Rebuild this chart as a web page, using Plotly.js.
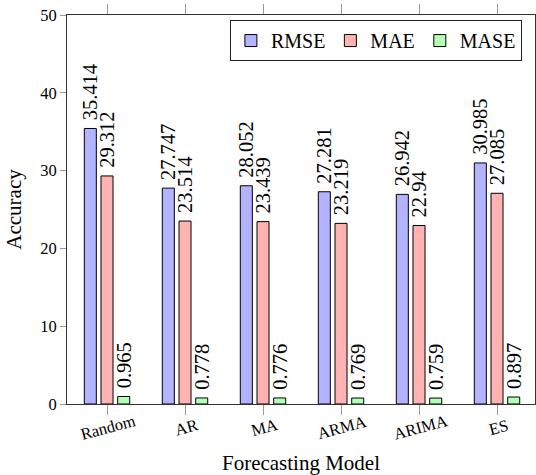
<!DOCTYPE html>
<html>
<head>
<meta charset="utf-8">
<script src="https://cdn.plot.ly/plotly-3.0.1.min.js"></script>
<style>
  html, body { margin: 0; padding: 0; background: #fff; }
  #chart { width: 536px; height: 475px; }
</style>
</head>
<body>
<div id="chart"></div>
<script>
const categories = ['Random', 'AR', 'MA', 'ARMA', 'ARIMA', 'ES'];
const seriesNames = ['RMSE', 'MAE', 'MASE'];
const rmse = [35.414, 27.747, 28.052, 27.281, 26.942, 30.985];
const mae = [29.312, 23.514, 23.439, 23.219, 22.94, 27.085];
const mase = [0.965, 0.778, 0.776, 0.769, 0.759, 0.897];
const yTicks = [0, 10, 20, 30, 40, 50];

const FONT = 'Liberation Serif';
const colors = ['#b3b3ff', '#ffb3b3', '#b3ffb3'];
const values = [rmse, mae, mase];

const traces = values.map((vals, k) => ({
  type: 'bar',
  name: seriesNames[k],
  x: categories,
  y: vals,
  text: vals.map(v => String(v)),
  texttemplate: '\u00a0%{text}',
  textposition: 'outside',
  textangle: -90,
  constraintext: 'none',
  cliponaxis: false,
  textfont: { family: FONT, size: 20.5, color: '#000' },
  marker: { color: colors[k], line: { color: '#000', width: 1 } },
  hoverinfo: 'x+y+name'
}));

const annotations = categories.map((c, i) => ({
  x: i, y: -0.06, xref: 'x', yref: 'paper',
  text: c, showarrow: false, textangle: -15,
  xanchor: 'center', yanchor: 'middle', xshift: 1,
  font: { family: FONT, size: 16.5, color: '#000' }
}));

const layout = {
  width: 536, height: 475,
  margin: { l: 67, r: 1, t: 15, b: 71 },
  paper_bgcolor: '#fff', plot_bgcolor: '#fff',
  font: { family: FONT, size: 16.5, color: '#000' },
  barmode: 'group',
  bargap: 0.358,
  bargroupgap: 0.28,
  showlegend: true,
  legend: {
    orientation: 'h', x: 0.972, xanchor: 'right', y: 0.987, yanchor: 'top',
    bgcolor: '#fff', bordercolor: '#222', borderwidth: 1,
    font: { family: FONT, size: 20, color: '#000' },
    itemwidth: 30, traceorder: 'normal'
  },
  xaxis: {
    type: 'category',
    range: [-0.513, 5.487],
    showline: true, linecolor: '#333', linewidth: 1, mirror: 'ticks',
    ticks: 'outside', ticklen: 10, tickcolor: '#999', tickwidth: 1,
    showticklabels: false, showgrid: false, zeroline: false,
    title: { text: 'Forecasting Model', font: { family: FONT, size: 21, color: '#000' }, standoff: 43 },
    automargin: false
  },
  yaxis: {
    range: [0, 50],
    tickvals: yTicks, ticktext: yTicks.map(String),
    showline: true, linecolor: '#333', linewidth: 1, mirror: 'ticks',
    ticks: 'outside', ticklen: 6, tickcolor: '#999', tickwidth: 1,
    showgrid: false, zeroline: false,
    tickfont: { family: FONT, size: 16.5, color: '#000' },
    title: { text: 'Accuracy', font: { family: FONT, size: 21, color: '#000' }, standoff: 12 },
    automargin: false
  },
  yaxis2: {
    overlaying: 'y', range: [0, 50], side: 'left',
    tickvals: yTicks, showticklabels: false,
    ticks: 'inside', ticklen: 10, tickcolor: '#999', tickwidth: 1,
    mirror: 'ticks', showline: false, showgrid: false, zeroline: false
  },
  annotations: annotations
};

Plotly.newPlot('chart', traces, layout, { displayModeBar: false, staticPlot: true });
</script>
</body>
</html>
